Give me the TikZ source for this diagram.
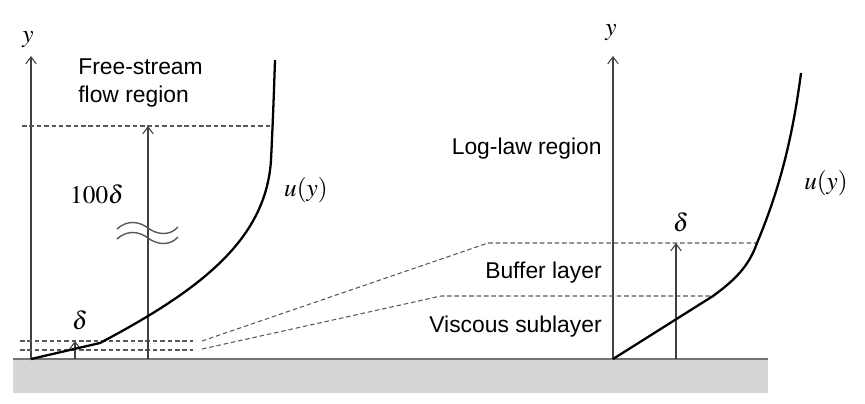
\documentclass[tikz,border=0pt]{standalone}
\usepackage{amsmath,amssymb}
\usepackage{mathptmx}
\usepackage{fontspec}
\setmainfont{Liberation Sans}
\usetikzlibrary{arrows.meta,positioning,calc}

\begin{document}
\begin{tikzpicture}[
    x=0.02cm, y=-0.02cm,
    axis/.style={draw=black!75, line width=0.6pt, -{Straight Barb[length=4pt,width=6pt]}},
    level/.style={draw=black!65, line width=0.6pt, dash pattern=on 2.6pt off 1.6pt},
    profile/.style={draw=black, line width=1.3pt, line join=round},
    wave/.style={draw=black!65, line width=0.8pt},
    region/.style={font=\fontsize{13}{16}\selectfont, inner sep=0pt},
    sym/.style={font=\Large, inner sep=0pt}
]
    \useasboundingbox (0,0) rectangle (865,403);

    % Wall
    \fill[black!16] (13,359) rectangle (768,393);
    \coordinate (wallL) at (13,359);
    \coordinate (wallR) at (768,359);
    \draw[black!55, line width=1pt] (wallL) -- (wallR);

    % Left picture: whole boundary layer
    \coordinate (oL) at (31,359);
    \coordinate (topL) at (31,56);
    \draw[axis] (oL) -- (topL);
    \node[sym] (yL) at (28,40) {$y$};

    \coordinate (freeA) at (22,126);
    \coordinate (freeB) at (272,126);
    \draw[level] (freeA) -- (freeB);

    \coordinate (bufA) at (20,341);
    \coordinate (bufB) at (193,341);
    \coordinate (visA) at (20,350);
    \coordinate (visB) at (193,350);
    \draw[level] (bufA) -- (bufB);
    \draw[level] (visA) -- (visB);

    \coordinate (hBase) at (148,359);
    \coordinate (hTop) at (148,126);
    \draw[axis] (hBase) -- (hTop);
    \coordinate (dBase) at (75,359);
    \coordinate (dTop) at (75,341);
    \draw[axis] (dBase) -- (dTop);

    % break marks
    \draw[wave] (117,229) .. controls (128,219) and (140,222) .. (148,228)
        .. controls (156,234) and (169,237) .. (178,227);
    \draw[wave] (117,239) .. controls (128,229) and (140,232) .. (148,238)
        .. controls (156,244) and (169,247) .. (178,237);

    \coordinate (kinkL) at (100,343);
    \coordinate (endL) at (275,60);
    \draw[profile] (oL) -- (kinkL) .. controls (200,290) and (266,240) .. (271,160)
        .. controls (273,120) and (274,90) .. (endL);

    \node[region, anchor=north west, align=left] (free) at (78,58) {Free-stream\\flow region};
    \node[sym] (hLabel) at (97,194) {$100\delta$};
    \node[sym] (dLabelL) at (80,320) {$\delta$};
    \node[sym] (uL) at (306,190) {$u(y)$};

    % Right picture: near-wall layers
    \coordinate (oR) at (613,359);
    \coordinate (topR) at (613,56);
    \draw[axis] (oR) -- (topR);
    \node[sym] (yR) at (611,33) {$y$};

    \coordinate (bufTop) at (757,243);
    \coordinate (bufBend) at (488,243);
    \coordinate (visTop) at (713,296);
    \coordinate (visBend) at (441,296);
    \coordinate (bufStart) at (202,341);
    \coordinate (visStart) at (202,349);
    \draw[level] (bufStart) -- (bufBend) -- (bufTop);
    \draw[level] (visStart) -- (visBend) -- (visTop);

    \coordinate (dBaseR) at (676,359);
    \coordinate (dTopR) at (676,243);
    \draw[axis] (dBaseR) -- (dTopR);

    \coordinate (endR) at (801,73);
    \draw[profile] (oR) -- (visTop) .. controls (735,280) and (749,266) .. (bufTop)
        .. controls (775,200) and (791,150) .. (endR);

    \node[region, anchor=base east] (logLaw) at (602,154) {Log-law region};
    \node[region, anchor=base east] (buffer) at (602,278) {Buffer layer};
    \node[region, anchor=base east] (viscous) at (602,332) {Viscous sublayer};
    \node[sym] (dLabelR) at (681,222) {$\delta$};
    \node[sym] (uR) at (826,183) {$u(y)$};
\end{tikzpicture}
\end{document}
